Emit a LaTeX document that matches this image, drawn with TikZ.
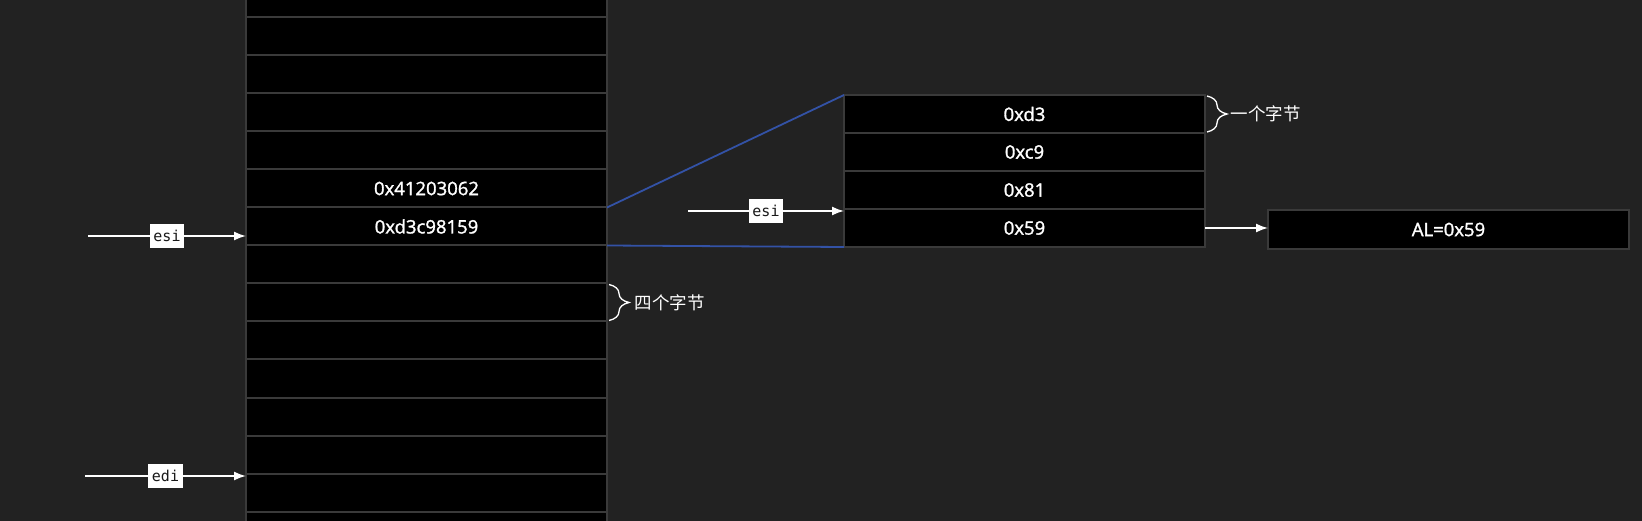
\documentclass[tikz,border=0pt]{standalone}
\usepackage{fontspec}
\setmainfont{Open Sans}
\setmonofont{DejaVu Sans Mono}
\newfontfamily\cjk{Noto Sans CJK SC}
\newfontfamily\cellfont{Open Sans}[FakeBold=1.6]
\usetikzlibrary{decorations.pathreplacing,arrows.meta,calc}
\definecolor{bgc}{HTML}{222222}
\definecolor{cellborder}{HTML}{3A3A3A}
\definecolor{linkblue}{HTML}{3352A6}
\begin{document}
\begin{tikzpicture}[x=1pt,y=-1pt,
  cell/.style={draw=cellborder, line width=2pt, fill=black, minimum width=361pt,
    minimum height=38pt, inner sep=0pt, outer sep=0pt, anchor=north west,
    text=white, font=\cellfont\fontsize{18.5}{21}\selectfont},
  celltext/.style={text=white, font=\cellfont\fontsize{18.5}{21}\selectfont},
  reglabel/.style={fill=white, text=black!90, font=\ttfamily\fontsize{15}{17}\selectfont,
    inner xsep=3.5pt, inner ysep=0pt, minimum height=24pt},
  arr/.style={draw=white, line width=1.6pt, -{Latex[length=12pt,width=9pt]}},
  link/.style={draw=linkblue, line width=1.8pt},
  bracedeco/.style={draw=white, line width=1.3pt, decorate,
    decoration={brace, amplitude=20pt}},
  note/.style={text=white, font=\cjk\fontsize{17.5}{20}\selectfont, anchor=west, inner sep=2pt}]
\useasboundingbox (0,0) rectangle (1642,521);
\fill[bgc] (0,0) rectangle (1642,521);
\begin{scope}
\clip (0,0) rectangle (1642,521);
% memory column
\foreach \i in {0,...,14}{
  \node[cell] (c\i) at (246,{-20.5+38*\i}) {};
}
\node[celltext] (v5) at (c5.center) {0x41203062};
\node[celltext] (v6) at (c6.center) {0xd3c98159};
% byte box
\node[cell] (r1) at (844,95) {0xd3};
\node[cell] (r2) at (844,133) {0xc9};
\node[cell] (r3) at (844,171) {0x81};
\node[cell] (r4) at (844,209) {0x59};
\node[cell, minimum height=39pt] (al) at (1268,210) {AL=0x59};
% expansion lines
\draw[link] (c6.north east) -- (r1.north west);
\draw[link] (c6.south east) -- (r4.south west);
% pointers
\coordinate (esiL) at (88,236);
\draw[arr] (esiL) -- (esiL -| c6.west) node[reglabel, midway] (lesi) {esi};
\coordinate (ediL) at (85,476);
\draw[arr] (ediL) -- (ediL -| c13.west) node[reglabel, midway] (ledi) {edi};
\coordinate (esiR) at (688,211);
\draw[arr] (esiR) -- (esiR -| r4.west) node[reglabel, midway] (lesi2) {esi};
\draw[arr] (r4.east) -- (r4.east -| al.west);
% braces
\draw[bracedeco] ($(c8.north east)+(2,1)$) -- ($(c8.south east)+(2,-1)$)
  node[note, midway, xshift=23pt] (t4) {四个字节};
\draw[bracedeco] ($(r1.north east)+(2,1)$) -- ($(r1.south east)+(2,-1)$)
  node[note, midway, xshift=21pt] (t1) {一个字节};
\end{scope}
\end{tikzpicture}
\end{document}
